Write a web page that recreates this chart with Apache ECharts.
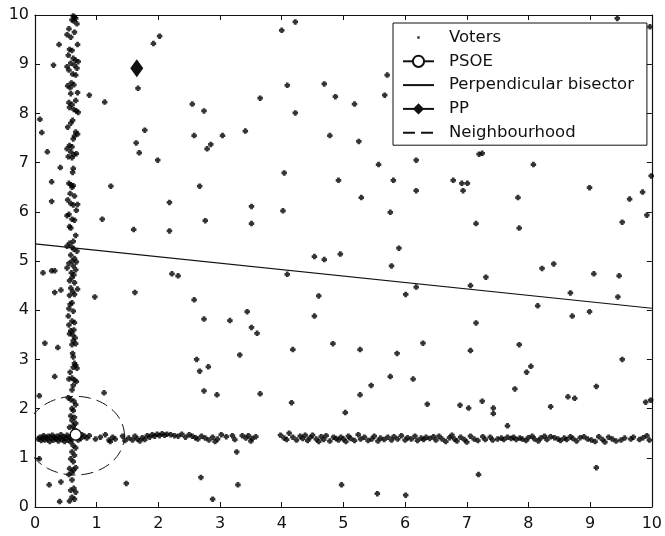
<!DOCTYPE html>
<html>
<head>
<meta charset="utf-8">
<script src="https://cdn.jsdelivr.net/npm/echarts@6/dist/echarts.min.js"></script>
<style>
html,body{margin:0;padding:0;background:#fff;}
#chart{width:665px;height:536px;}
</style>
</head>
<body>
<div id="chart"></div>
<script>
// ---- data ----
const xTicks = [0,1,2,3,4,5,6,7,8,9,10];
const yTicks = [0,1,2,3,4,5,6,7,8,9,10];

const votersScattered = [
[4.00,9.69],[4.22,9.86],[2.55,8.19],[2.74,8.05],[3.65,8.31],[4.09,8.57],[4.22,8.01],[4.69,8.60],[4.87,8.34],[5.18,8.19],[5.67,8.37],[5.71,8.78],[2.58,7.55],[2.79,7.28],[2.85,7.37],[3.04,7.55],[3.41,7.64],[4.78,7.55],[5.25,7.43],[5.57,6.96],[4.04,6.79],[4.92,6.64],[5.81,6.64],[2.67,6.52],[5.29,6.29],
[3.51,6.11],[4.02,6.02],[5.76,5.99],[2.76,5.82],[3.51,5.76],[5.90,5.26],[4.53,5.09],[4.69,5.03],[4.95,5.14],[5.78,4.90],[4.09,4.73],[6.01,4.32],[2.58,4.21],[4.60,4.29],[2.74,3.82],[3.16,3.79],[3.44,3.97],[3.51,3.65],[3.60,3.53],[4.53,3.88],[4.83,3.32],[4.18,3.20],[5.27,3.20],[5.87,3.12],[3.32,3.09],[2.62,3.00],[2.67,2.76],[2.81,2.85],[5.76,2.65],[5.45,2.47],
[7.20,7.17],[7.25,7.19],[6.18,7.05],[8.08,6.96],[6.78,6.64],[6.92,6.58],[7.01,6.58],[6.94,6.43],[6.18,6.43],[8.99,6.49],[9.99,6.73],[9.85,6.40],[9.64,6.26],[7.83,6.29],[9.92,5.93],[9.52,5.79],[7.15,5.76],[7.85,5.67],[8.22,4.85],[8.41,4.94],[7.31,4.67],[9.06,4.74],[9.47,4.70],[7.06,4.50],[6.18,4.47],[8.68,4.35],[9.45,4.27],[8.15,4.09],[8.71,3.88],[8.99,3.97],[7.15,3.74],[6.29,3.33],[7.06,3.18],[7.85,3.30],[9.52,3.00],[8.04,2.86],[7.97,2.74],[6.13,2.60],[7.78,2.40],[9.10,2.45],
[6.89,2.07],[7.03,2.01],[7.25,2.15],[7.43,2.01],[7.43,1.90],[7.66,1.65],[8.36,2.04],[8.64,2.24],[8.75,2.21],[9.90,2.13],[9.98,2.17],[7.19,0.66],[9.10,0.80],
[2.74,2.36],[2.95,2.28],[3.65,2.30],[4.16,2.12],[5.03,1.92],[5.27,2.28],[6.36,2.09],[3.27,1.12],[2.69,0.60],[2.88,0.16],[3.29,0.45],[4.97,0.45],[5.55,0.27],[6.01,0.24],
[9.44,9.93],[9.97,9.76],
[0.08,7.88],[0.11,7.61],[0.20,7.22],[0.30,8.98],[0.39,9.40],[0.41,6.90],[0.27,6.61],[0.88,8.37],[1.13,8.23],[1.67,8.51],[1.78,7.66],[1.64,7.40],[1.69,7.20],[1.99,7.05],[1.92,9.42],[2.02,9.57],[1.23,6.52],
[1.09,5.85],[1.60,5.64],[2.18,5.61],[2.18,6.19],[0.13,4.76],[0.27,4.80],[0.32,4.80],[0.32,4.36],[0.42,4.41],[0.97,4.27],[1.62,4.36],[2.22,4.74],[2.32,4.70],[0.16,3.33],[0.37,3.24],[0.32,2.65],[0.27,6.21],
[0.07,2.26],[0.23,0.45],[0.40,0.11],[0.42,0.51],[1.48,0.48],[1.12,2.32],[0.07,0.98]
];

const votersVertical = [
[0.62,9.98],[0.64,9.95],[0.66,9.93],[0.60,9.90],[0.68,9.82],[0.63,9.88],[0.55,9.72],[0.52,9.60],[0.58,9.55],[0.64,9.65],[0.69,9.40],[0.56,9.30],[0.60,9.28],[0.54,9.18],[0.62,9.12],[0.66,9.08],[0.70,9.05],[0.58,9.02],[0.52,8.95],[0.64,8.98],[0.68,8.92],[0.55,8.88],[0.61,8.80],[0.66,8.78],[0.59,8.62],[0.53,8.56],[0.57,8.52],[0.63,8.58],[0.69,8.42],[0.58,8.40],[0.55,8.22],[0.60,8.18],[0.66,8.26],[0.56,8.12],[0.63,8.08],[0.67,8.05],[0.70,8.02],[0.61,7.86],[0.58,7.80],[0.53,7.72],[0.66,7.62],[0.69,7.58],[0.64,7.54],[0.62,7.48],[0.56,7.35],[0.60,7.32],[0.52,7.28],[0.58,7.22],[0.63,7.16],[0.54,7.12],[0.60,7.10],[0.67,7.18],[0.62,6.88],[0.61,6.80],[0.55,6.58],[0.58,6.55],[0.62,6.53],[0.60,6.50],[0.57,6.37],[0.53,6.24],[0.64,6.32],[0.58,6.17],[0.62,6.14],[0.69,6.15],[0.67,6.03],[0.55,5.95],[0.52,5.92],[0.60,5.85],[0.64,5.83],[0.56,5.70],[0.58,5.67],[0.66,5.52],[0.62,5.40],[0.56,5.36],[0.52,5.30],[0.60,5.28],[0.63,5.24],[0.68,5.20],[0.58,5.12],[0.64,5.05],[0.60,5.00],[0.67,4.98],[0.55,4.95],[0.62,4.90],[0.52,4.86],[0.66,4.82],[0.59,4.76],[0.63,4.72],[0.60,4.66],[0.56,4.60],[0.64,4.56],[0.69,4.43],[0.58,4.45],[0.61,4.38],[0.56,4.30],[0.64,4.32],[0.60,4.15],[0.57,4.12],[0.55,4.03],[0.62,3.98],[0.54,3.88],[0.60,3.78],[0.64,3.75],[0.55,3.70],[0.58,3.58],[0.63,3.60],[0.56,3.52],[0.61,3.50],[0.65,3.44],[0.62,3.38],[0.60,3.30],[0.66,3.32],[0.61,3.12],[0.62,3.05],[0.64,2.92],[0.66,2.88],[0.62,2.84],[0.68,2.82],[0.57,2.74],[0.55,2.60],[0.60,2.62],[0.64,2.58],[0.67,2.55],[0.62,2.47],[0.60,2.38],[0.54,2.22],[0.58,2.18],[0.63,2.15],[0.66,2.08],[0.60,2.00],[0.62,1.96],[0.58,1.85],[0.64,1.82],[0.60,1.76],[0.66,1.70],[0.62,1.65],[0.56,1.62],[0.64,1.58],[0.62,1.25],[0.66,1.20],[0.60,1.12],[0.64,1.05],[0.58,0.98],[0.62,0.92],[0.56,0.78],[0.62,0.75],[0.66,0.80],[0.60,0.70],[0.55,0.66],[0.60,0.55],[0.63,0.38],[0.58,0.34],[0.66,0.30],[0.60,0.20],[0.64,0.16],[0.56,0.12]
];

const votersHorizontal = [
[0.05,1.38],[0.08,1.42],[0.10,1.35],[0.12,1.40],[0.14,1.45],[0.16,1.36],[0.18,1.42],[0.20,1.38],[0.22,1.44],[0.24,1.33],[0.26,1.40],[0.28,1.46],[0.30,1.36],[0.32,1.42],[0.34,1.38],[0.36,1.44],[0.38,1.34],[0.40,1.40],[0.42,1.47],[0.44,1.37],[0.46,1.43],[0.48,1.33],[0.50,1.40],[0.52,1.46],[0.54,1.36],[0.56,1.42],[0.58,1.32],[0.60,1.38],[0.70,1.36],[0.72,1.43],[0.74,1.39],[0.76,1.47],[0.80,1.44],[0.84,1.40],[0.88,1.45],
[0.98,1.38],[1.06,1.42],[1.14,1.47],[1.20,1.36],[1.22,1.33],[1.26,1.42],[1.30,1.38],[1.42,1.44],[1.46,1.35],[1.52,1.40],[1.58,1.36],[1.62,1.44],[1.66,1.38],[1.70,1.34],[1.74,1.41],[1.78,1.37],[1.82,1.45],[1.86,1.42],[1.90,1.47],[1.94,1.44],[1.98,1.48],[2.02,1.45],[2.06,1.49],[2.10,1.46],[2.14,1.48],[2.20,1.47],[2.26,1.45],[2.32,1.44],[2.38,1.48],[2.44,1.42],[2.50,1.47],[2.55,1.44],[2.60,1.41],[2.64,1.38],[2.70,1.44],[2.76,1.40],[2.82,1.36],[2.88,1.42],[2.92,1.33],[2.96,1.38],[3.02,1.47],[3.10,1.43],[3.20,1.45],[3.24,1.37],[3.36,1.45],[3.42,1.40],[3.46,1.45],[3.50,1.34],[3.52,1.39],[3.58,1.43],
[3.98,1.46],[4.04,1.40],[4.08,1.37],[4.12,1.50],[4.18,1.42],[4.24,1.36],[4.30,1.44],[4.34,1.39],[4.38,1.46],[4.42,1.35],[4.46,1.41],[4.50,1.46],[4.56,1.38],[4.60,1.33],[4.64,1.43],[4.68,1.37],[4.72,1.45],[4.78,1.34],[4.84,1.42],[4.88,1.39],[4.92,1.36],[4.96,1.42],[5.00,1.38],[5.04,1.33],[5.08,1.44],[5.12,1.39],[5.18,1.35],[5.24,1.47],[5.28,1.38],[5.34,1.42],[5.40,1.35],[5.46,1.38],[5.50,1.44],[5.56,1.34],[5.60,1.40],[5.66,1.37],[5.72,1.42],[5.78,1.36],[5.82,1.43],[5.88,1.38],[5.94,1.45],[6.00,1.36],[6.04,1.41],[6.10,1.38],[6.16,1.44],[6.20,1.35],[6.26,1.40],[6.30,1.37],[6.34,1.42],[6.40,1.39],[6.46,1.43],
[6.50,1.36],[6.55,1.44],[6.60,1.38],[6.66,1.33],[6.72,1.41],[6.76,1.46],[6.80,1.38],[6.84,1.34],[6.90,1.42],[6.96,1.37],[7.00,1.32],[7.06,1.44],[7.12,1.38],[7.18,1.35],[7.26,1.43],[7.30,1.37],[7.38,1.42],[7.42,1.36],[7.50,1.38],[7.56,1.40],[7.60,1.37],[7.66,1.42],[7.72,1.39],[7.76,1.42],[7.80,1.37],[7.86,1.40],[7.90,1.38],[7.96,1.35],[8.00,1.41],[8.06,1.44],[8.10,1.38],[8.16,1.34],[8.20,1.40],[8.26,1.44],[8.30,1.37],[8.36,1.43],[8.42,1.41],[8.48,1.38],[8.52,1.35],[8.58,1.40],[8.62,1.37],[8.68,1.43],[8.72,1.39],[8.78,1.34],[8.84,1.41],[8.90,1.43],[8.96,1.38],[9.02,1.36],[9.08,1.33],[9.14,1.43],[9.20,1.37],[9.24,1.32],[9.30,1.42],[9.36,1.38],[9.42,1.34],[9.50,1.36],[9.56,1.40],[9.66,1.38],[9.70,1.42],[9.80,1.37],[9.86,1.41],[9.92,1.45],[9.96,1.36]
];

const psoe = [0.66, 1.47];
const pp = [1.65, 8.92];
const bisector = [[0, 5.35], [10, 4.04]];
const neighbourhoodCenter = [0.65, 1.45];
const neighbourhoodRadius = 0.8;

// ---- build ----
const voters = votersScattered.concat(votersVertical, votersHorizontal);
const circlePts = [];
for (let i = 0; i <= 180; i++) {
  const a = i / 180 * Math.PI * 2;
  circlePts.push([neighbourhoodCenter[0] + neighbourhoodRadius * Math.cos(a),
                  neighbourhoodCenter[1] + neighbourhoodRadius * Math.sin(a)]);
}

const FONT = 'DejaVu Sans, Liberation Sans, sans-serif';
const INK = '#111';
const blobPath = 'path://M1,0H3V1H4V3H3V4H1V3H0V1H1Z';

const chart = echarts.init(document.getElementById('chart'), null, {renderer: 'canvas'});
const axisCommon = {
  type: 'value', min: 0, max: 10, interval: 1,
  splitLine: {show: false},
  axisLine: {show: true, onZero: false, lineStyle: {color: INK, width: 1.2}},
  axisTick: {show: true, inside: true, length: 5, lineStyle: {color: INK}}
};
const hidden = {color: 'rgba(0,0,0,0)', borderColor: 'rgba(0,0,0,0)', borderWidth: 0};
chart.setOption({
  animation: false,
  backgroundColor: '#fff',
  grid: {left: 35, right: 8, top: 15, bottom: 29, containLabel: false},
  xAxis: [
    Object.assign({}, axisCommon, {position: 'bottom',
      axisLabel: {show: true, fontSize: 16, fontFamily: FONT, color: INK, margin: 9,
        formatter: v => String(xTicks[v] !== undefined ? xTicks[v] : v)}}),
    Object.assign({}, axisCommon, {position: 'top', axisLabel: {show: false}})
  ],
  yAxis: [
    Object.assign({}, axisCommon, {position: 'left',
      axisLabel: {show: true, fontSize: 16, fontFamily: FONT, color: INK, margin: 6,
        formatter: v => String(yTicks[v] !== undefined ? yTicks[v] : v)}}),
    Object.assign({}, axisCommon, {position: 'right', axisLabel: {show: false}})
  ],
  legend: {
    orient: 'vertical',
    left: 393, top: 23,
    padding: [6, 13, 4, 9],
    borderColor: INK, borderWidth: 1,
    backgroundColor: '#fff',
    itemWidth: 31, itemHeight: 14, itemGap: 6.8,
    textStyle: {fontSize: 16.5, lineHeight: 14, fontFamily: FONT, color: INK, padding: [0, 0, 0, 10]},
    data: [
      {name: 'Voters', icon: 'path://M0,0L0.01,0ZM14.3,5.7H16.7V8.1H14.3ZM31,13.8L30.99,13.8Z'},
      'PSOE',
      {name: 'Perpendicular bisector', itemStyle: hidden},
      'PP',
      {name: 'Neighbourhood', itemStyle: hidden, lineStyle: {type: [12, 6]}}
    ],
    selectedMode: false,
    z: 10
  },
  series: [
    {
      name: 'Voters', type: 'scatter', data: voters,
      symbol: blobPath, symbolSize: 5.5,
      itemStyle: {color: '#000', borderWidth: 0}, z: 2
    },
    {
      name: 'PSOE', type: 'line', data: [psoe],
      symbol: 'circle', symbolSize: 11, showSymbol: true,
      lineStyle: {color: INK, width: 1},
      itemStyle: {color: '#fff', borderColor: INK, borderWidth: 1.3}, z: 5
    },
    {
      name: 'Perpendicular bisector', type: 'line', data: bisector,
      symbol: 'none', lineStyle: {color: INK, width: 1.2}, itemStyle: {color: INK}, z: 3
    },
    {
      name: 'PP', type: 'line', data: [pp],
      symbol: 'diamond', symbolSize: [13, 18], showSymbol: true,
      lineStyle: {color: INK, width: 1},
      itemStyle: {color: INK}, z: 5
    },
    {
      name: 'Neighbourhood', type: 'line', data: circlePts,
      symbol: 'none', smooth: false, clip: true,
      lineStyle: {color: INK, width: 1, type: [12, 6]}, itemStyle: {color: INK}, z: 4
    }
  ]
});
</script>
</body>
</html>
